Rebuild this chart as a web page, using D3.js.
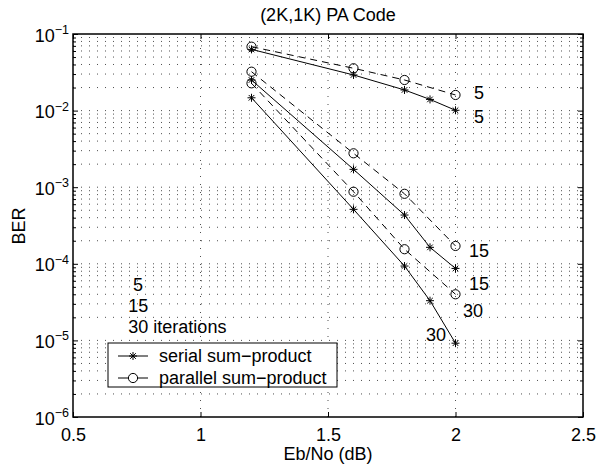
<!DOCTYPE html>
<html lang="en">
<head>
  <meta charset="UTF-8">
  <title>(2K,1K) PA Code</title>
  <style>
    body { margin: 0; background: #fff; }
    svg { display: block; }
    text { font-family: "Liberation Sans", Arial, Helvetica, sans-serif; fill: #000; }
  </style>
</head>
<body>
  <script src="https://d3js.org/d3.v7.min.js"></script>
  <script>
    // Eb/No points (dB)
    const serialX = [1.2, 1.6, 1.8, 1.9, 2.0]
    const parallelX = [1.2, 1.6, 1.8, 2.0]

    // BER values
    const serial5 = [0.063, 0.0292, 0.0186, 0.0140, 0.0101]
    const serial15 = [0.0251, 0.00171, 0.000433, 0.000164, 0.000087]
    const serial30 = [0.0147, 0.000514, 0.0000935, 0.000033, 0.0000092]
    const parallel5 = [0.0683, 0.0357, 0.0251, 0.0160]
    const parallel15 = [0.0322, 0.00277, 0.00082, 0.000171]
    const parallel30 = [0.0227, 0.000873, 0.000155, 0.000040]

    const xTicks = [0.5, 1, 1.5, 2, 2.5]
    const yDecades = [-1, -2, -3, -4, -5, -6]

    // text annotations, placed in data coordinates like matlab text()
    const notes = [
      { x: 2.073, y: 0.0170, t: '5' },
      { x: 2.073, y: 0.00825, t: '5' },
      { x: 2.053, y: 1.48e-4, t: '15' },
      { x: 2.053, y: 5.6e-5, t: '15' },
      { x: 2.029, y: 2.44e-5, t: '30' },
      { x: 1.884, y: 1.19e-5, t: '30' },
      { x: 0.735, y: 5.33e-5, t: '5' },
      { x: 0.717, y: 2.84e-5, t: '15' },
      { x: 0.717, y: 1.51e-5, t: '30 iterations' }
    ]

    const width = 607
    const height = 469
    const m = { left: 73, right: 24, top: 34, bottom: 52 }
    const fs = 18

    const x = d3.scaleLinear().domain([0.5, 2.5]).range([m.left, width - m.right])
    const y = d3.scaleLog().domain([1e-6, 1e-1]).range([height - m.bottom, m.top])

    const svg = d3.select('body').append('svg')
      .attr('width', width)
      .attr('height', height)

    const x0 = x.range()[0], x1 = x.range()[1]
    const y0 = y.range()[0], y1 = y.range()[1]

    // grid (dotted)
    const allY = y.ticks()
    const grid = svg.append('g')
      .attr('stroke', '#222')
      .attr('stroke-width', 0.8)
      .attr('stroke-dasharray', '1,7')
    grid.selectAll('.hg')
      .data(allY.filter(v => v < 0.1 && v > 1e-6))
      .join('line')
      .attr('x1', x0).attr('x2', x1)
      .attr('y1', d => y(d)).attr('y2', d => y(d))
    grid.selectAll('.vg')
      .data(xTicks.slice(1, -1))
      .join('line')
      .attr('x1', d => x(d)).attr('x2', d => x(d))
      .attr('y1', y0).attr('y2', y1)

    // axes (ticks inside)
    const isMajor = v => Math.abs(Math.log10(v) - Math.round(Math.log10(v))) < 1e-6

    const gx = svg.append('g')
      .attr('transform', `translate(0,${y0})`)
      .call(d3.axisBottom(x).tickValues(xTicks).tickSize(-5).tickPadding(11).tickFormat(d3.format('')))
    gx.select('.domain').remove()
    gx.selectAll('text').attr('font-size', fs).attr('font-family', null)

    const gxt = svg.append('g')
      .attr('transform', `translate(0,${y1})`)
      .call(d3.axisTop(x).tickValues(xTicks).tickSize(-5).tickFormat(''))
    gxt.select('.domain').remove()

    const yMajor = allY.filter(isMajor)
    const yMinor = allY.filter(v => !isMajor(v))

    function yAxes(side, pos) {
      const ax = side === 'left' ? d3.axisLeft : d3.axisRight
      const a = svg.append('g').attr('transform', `translate(${pos},0)`)
        .call(ax(y).tickValues(yMajor).tickSize(-5).tickFormat(''))
      a.select('.domain').remove()
      const b = svg.append('g').attr('transform', `translate(${pos},0)`)
        .call(ax(y).tickValues(yMinor).tickSize(-3).tickFormat(''))
      b.select('.domain').remove()
    }
    yAxes('left', x0)
    yAxes('right', x1)

    // y tick labels 10^k
    const yl = svg.append('g')
      .selectAll('text')
      .data(yDecades)
      .join('text')
      .attr('x', x0 - 4)
      .attr('y', d => y(Math.pow(10, d)) + 7.5)
      .attr('text-anchor', 'end')
      .attr('font-size', fs)
    yl.append('tspan').text('10')
    yl.append('tspan').attr('font-size', 12.5).attr('dy', -7.5).text(d => '\u2212' + (-d))

    // box
    svg.append('rect')
      .attr('x', x0).attr('y', y1)
      .attr('width', x1 - x0).attr('height', y0 - y1)
      .attr('fill', 'none').attr('stroke', '#000').attr('stroke-width', 1.5)

    // series
    const line = d3.line().x(d => x(d[0])).y(d => y(d[1]))
    const star = 'M-4,0H4M0,-4V4M-2.8,-2.8L2.8,2.8M-2.8,2.8L2.8,-2.8'

    const serial = [serial5, serial15, serial30].map(s => s.map((v, i) => [serialX[i], v]))
    const parallel = [parallel5, parallel15, parallel30].map(s => s.map((v, i) => [parallelX[i], v]))

    const plot = svg.append('g')
    plot.selectAll('.sl').data(serial).join('path')
      .attr('d', line).attr('fill', 'none').attr('stroke', '#000').attr('stroke-width', 1)
    plot.selectAll('.pl').data(parallel).join('path')
      .attr('d', line).attr('fill', 'none').attr('stroke', '#000').attr('stroke-width', 1)
      .attr('stroke-dasharray', '7,5')

    plot.selectAll('.sm').data(serial.flat()).join('path')
      .attr('transform', d => `translate(${x(d[0])},${y(d[1])})`)
      .attr('d', star).attr('stroke', '#000').attr('stroke-width', 1).attr('fill', 'none')
    plot.selectAll('.pm').data(parallel.flat()).join('circle')
      .attr('cx', d => x(d[0])).attr('cy', d => y(d[1])).attr('r', 4.6)
      .attr('stroke', '#000').attr('stroke-width', 1).attr('fill', 'none')

    // annotations
    svg.append('g').selectAll('text')
      .data(notes)
      .join('text')
      .attr('x', d => x(d.x))
      .attr('y', d => y(d.y))
      .attr('dy', '0.36em')
      .attr('font-size', fs)
      .text(d => d.t)

    // legend
    const lg = svg.append('g').attr('transform', 'translate(108,343)')
    lg.append('rect').attr('width', 229).attr('height', 44)
      .attr('fill', '#fff').attr('stroke', '#000').attr('stroke-width', 1)
    const items = [
      { name: 'serial sum\u2212product', dash: null, mk: 'star' },
      { name: 'parallel sum\u2212product', dash: '10,10', mk: 'circle' }
    ]
    const li = lg.selectAll('g').data(items).join('g')
      .attr('transform', (d, i) => `translate(0,${13 + i * 22})`)
    li.append('line').attr('x1', 10).attr('x2', 40)
      .attr('stroke', '#000').attr('stroke-width', 1)
      .attr('stroke-dasharray', d => d.dash)
    li.filter(d => d.mk === 'star').append('path')
      .attr('transform', 'translate(25,0)').attr('d', star)
      .attr('stroke', '#000').attr('fill', 'none')
    li.filter(d => d.mk === 'circle').append('circle')
      .attr('cx', 25).attr('r', 4.6).attr('fill', '#fff').attr('stroke', '#000')
    li.append('text').attr('x', 51).attr('dy', '0.36em').attr('font-size', fs).text(d => d.name)

    // titles
    svg.append('text')
      .attr('x', (x0 + x1) / 2).attr('y', 21)
      .attr('text-anchor', 'middle').attr('font-size', fs)
      .text('(2K,1K) PA Code')
    svg.append('text')
      .attr('x', (x0 + x1) / 2).attr('y', 460)
      .attr('text-anchor', 'middle').attr('font-size', fs)
      .text('Eb/No (dB)')
    svg.append('text')
      .attr('transform', 'translate(25,226) rotate(-90)')
      .attr('text-anchor', 'middle').attr('font-size', fs)
      .text('BER')
  </script>
</body>
</html>
